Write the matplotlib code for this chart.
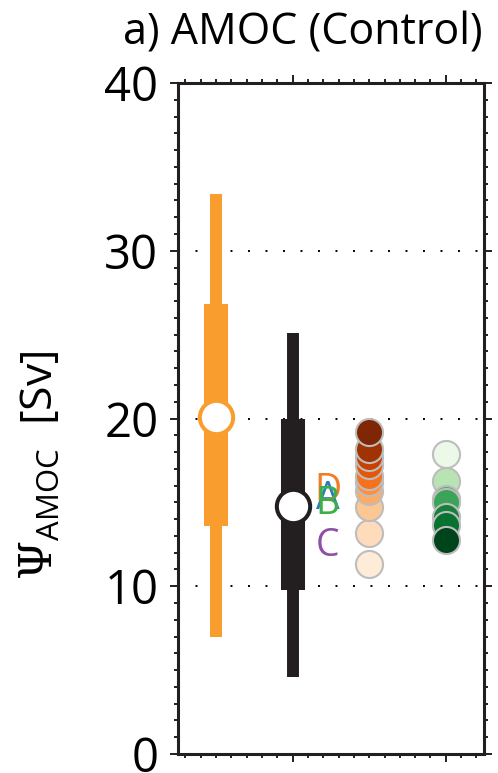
import numpy as np
import matplotlib
matplotlib.use("Agg")
import matplotlib.pyplot as plt
from matplotlib.ticker import MultipleLocator, NullFormatter

plt.rcParams['font.family'] = ['Open Sans', 'DejaVu Sans']
plt.rcParams['mathtext.fontset'] = 'custom'
plt.rcParams['mathtext.rm'] = 'DejaVu Serif'
plt.rcParams['mathtext.sf'] = 'Open Sans'

# range bars: (whisker low, box low, median, box high, whisker high)
obs_x = 1
obs_stats = [7.0, 13.6, 20.1, 26.8, 33.4]
ens_x = 2
ens_stats = [4.6, 9.8, 14.8, 20.0, 25.1]

# individual runs labelled by letter, placed next to the ensemble bar
letter_x = 2.46
letters = ['A', 'D', 'B', 'C']
letter_vals = [15.2, 15.7, 14.9, 12.4]
letter_colors = ['#2b7bba', '#f07d26', '#3bb04a', '#8e4fa6']

# model members (two groups)
orange_x = 3
orange_vals = [19.2, 18.2, 17.7, 17.2, 16.6, 16.2, 15.7, 14.7, 13.2, 11.3]
green_x = 4
green_vals = [17.9, 16.3, 15.2, 15.0, 14.1, 13.65, 12.75]
green_shades = [0.08, 0.3, 0.6, 0.65, 0.8, 0.85, 1.0]

fig = plt.figure(figsize=(4.98, 7.73), dpi=100)
ax = fig.add_axes([0.357, 0.0246, 0.615, 0.868])

ax.set_xlim(0.5, 4.5)
ax.set_ylim(0, 40)

for y in [10, 20, 30]:
    ax.axhline(y, color='black', lw=1.4, ls=(0, (1, 8)), zorder=0)


def range_bar(x, stats, color):
    lo, q1, med, q3, hi = stats
    ax.plot([x, x], [lo, hi], color=color, lw=8.6, solid_capstyle='butt', zorder=2)
    ax.plot([x, x], [q1, q3], color=color, lw=17.3, solid_capstyle='butt', zorder=2)
    ax.plot([x], [med], marker='o', ms=24, mfc='white', mec=color, mew=2.9, zorder=3)


range_bar(obs_x, obs_stats, '#f89d2e')
range_bar(ens_x, ens_stats, '#231f20')

for t, v, c in zip(letters, letter_vals, letter_colors):
    ax.text(letter_x, v, t, color=c, fontsize=27, ha='center', va='center', zorder=4)

# orange members: darker for larger values, larger values drawn on top
ocols = plt.cm.Oranges(np.linspace(0.08, 1.0, len(orange_vals)))
for rank, v in enumerate(sorted(orange_vals)):
    ax.plot([orange_x], [v], marker='o', ms=19.5, mfc=ocols[rank], mec='#bdbdbd', mew=1.5, zorder=5)

# green members: darker for smaller values, smaller values drawn on top
for v, s in zip(sorted(green_vals, reverse=True), green_shades):
    ax.plot([green_x], [v], marker='o', ms=19.5, mfc=plt.cm.Greens(s), mec='#bdbdbd', mew=1.5, zorder=5)

ax.xaxis.set_major_locator(MultipleLocator(2))
ax.xaxis.set_minor_locator(MultipleLocator(0.2))
ax.xaxis.set_major_formatter(NullFormatter())
ax.yaxis.set_major_locator(MultipleLocator(10))
ax.yaxis.set_minor_locator(MultipleLocator(1))

ax.tick_params(which='both', direction='out', top=True, right=True, color='#231f20', width=1.4)
ax.tick_params(which='major', length=6)
ax.tick_params(which='minor', length=3)
ax.tick_params(axis='y', which='major', labelsize=34, pad=8)
for sp in ax.spines.values():
    sp.set_linewidth(2.2)
    sp.set_color('#231f20')

fig.text(123 / 498, 1 - 44 / 773, 'a) AMOC (Control)', fontsize=31, ha='left', va='baseline')
fig.text(42 / 498, 1 - 465 / 773, r'$\Psi_{\mathsf{AMOC}}$  [Sv]', fontsize=32,
         rotation=90, ha='center', va='center')

fig.savefig('out.png', dpi=100)
